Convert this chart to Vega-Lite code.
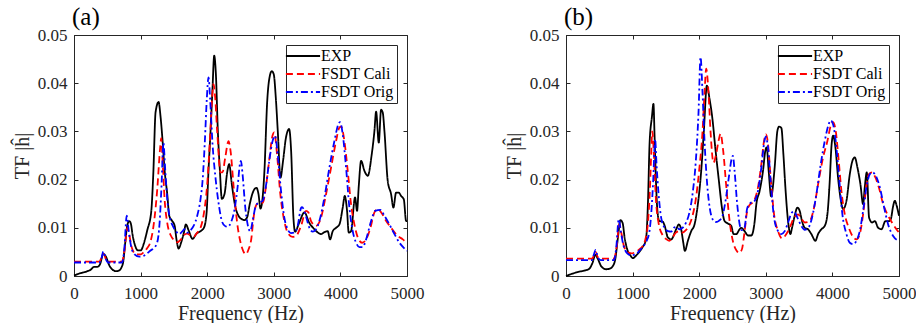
{
  "$schema": "https://vega.github.io/schema/vega-lite/v6.json",
  "autosize": {"type": "pad"},
  "padding": {"left": 11, "top": 4, "right": 0, "bottom": 0},
  "background": "white",
  "bounds": "flush",
  "spacing": 159,
  "config": {
    "font": "Liberation Serif",
    "view": {"stroke": "#262626", "strokeWidth": 1},
    "axis": {
      "grid": false,
      "labelFont": "Liberation Serif",
      "labelFontSize": 17,
      "labelColor": "#262626",
      "titleFont": "Liberation Serif",
      "titleFontSize": 20,
      "titleFontWeight": "normal",
      "titleColor": "#262626",
      "tickColor": "#262626",
      "domainColor": "#262626",
      "tickSize": -4,
      "labelFlush": false,
      "labelOverlap": false
    },
    "legend": {
      "orient": "top-right", "offset": 10, "padding": 3,
      "strokeColor": "#262626", "fillColor": "white",
      "symbolType": "M-2.85,0H2.85", "symbolSize": 144, "symbolStrokeWidth": 2,
      "symbolOffset": 6, "labelOffset": 10,
      "labelFont": "Liberation Serif", "labelFontSize": 16, "labelColor": "black",
      "rowPadding": 2, "labelLimit": 0
    },
    "title": {"font": "Liberation Serif", "fontSize": 25, "fontWeight": "normal", "color": "black", "anchor": "start", "frame": "group", "offset": -4, "dx": -2}
  },
  "data": {"values": [
    {"p":"a","s":"EXP","f":0,"tf":0.0001},{"p":"a","s":"EXP","f":100,"tf":0.0006},{"p":"a","s":"EXP","f":200,"tf":0.0010},{"p":"a","s":"EXP","f":250,"tf":0.0013},{"p":"a","s":"EXP","f":300,"tf":0.0019},{"p":"a","s":"EXP","f":350,"tf":0.0019},{"p":"a","s":"EXP","f":390,"tf":0.0024},{"p":"a","s":"EXP","f":440,"tf":0.0046},{"p":"a","s":"EXP","f":480,"tf":0.0040},{"p":"a","s":"EXP","f":530,"tf":0.0022},{"p":"a","s":"EXP","f":580,"tf":0.0013},{"p":"a","s":"EXP","f":630,"tf":0.0010},{"p":"a","s":"EXP","f":670,"tf":0.0011},{"p":"a","s":"EXP","f":710,"tf":0.0017},{"p":"a","s":"EXP","f":740,"tf":0.0030},{"p":"a","s":"EXP","f":770,"tf":0.0070},{"p":"a","s":"EXP","f":800,"tf":0.0105},{"p":"a","s":"EXP","f":830,"tf":0.0114},{"p":"a","s":"EXP","f":855,"tf":0.0108},{"p":"a","s":"EXP","f":880,"tf":0.0085},{"p":"a","s":"EXP","f":920,"tf":0.0062},{"p":"a","s":"EXP","f":960,"tf":0.0053},{"p":"a","s":"EXP","f":1000,"tf":0.0053},{"p":"a","s":"EXP","f":1050,"tf":0.0068},{"p":"a","s":"EXP","f":1100,"tf":0.0095},{"p":"a","s":"EXP","f":1160,"tf":0.0134},{"p":"a","s":"EXP","f":1190,"tf":0.0210},{"p":"a","s":"EXP","f":1225,"tf":0.0340},{"p":"a","s":"EXP","f":1270,"tf":0.0361},{"p":"a","s":"EXP","f":1300,"tf":0.0330},{"p":"a","s":"EXP","f":1330,"tf":0.0280},{"p":"a","s":"EXP","f":1360,"tf":0.0220},{"p":"a","s":"EXP","f":1400,"tf":0.0170},{"p":"a","s":"EXP","f":1430,"tf":0.0125},{"p":"a","s":"EXP","f":1470,"tf":0.0115},{"p":"a","s":"EXP","f":1510,"tf":0.0105},{"p":"a","s":"EXP","f":1540,"tf":0.0075},{"p":"a","s":"EXP","f":1570,"tf":0.0057},{"p":"a","s":"EXP","f":1610,"tf":0.0070},{"p":"a","s":"EXP","f":1650,"tf":0.0090},{"p":"a","s":"EXP","f":1680,"tf":0.0107},{"p":"a","s":"EXP","f":1720,"tf":0.0095},{"p":"a","s":"EXP","f":1780,"tf":0.0077},{"p":"a","s":"EXP","f":1840,"tf":0.0088},{"p":"a","s":"EXP","f":1900,"tf":0.0093},{"p":"a","s":"EXP","f":1950,"tf":0.0100},{"p":"a","s":"EXP","f":1990,"tf":0.0130},{"p":"a","s":"EXP","f":2020,"tf":0.0220},{"p":"a","s":"EXP","f":2050,"tf":0.0300},{"p":"a","s":"EXP","f":2080,"tf":0.0390},{"p":"a","s":"EXP","f":2105,"tf":0.0457},{"p":"a","s":"EXP","f":2130,"tf":0.0420},{"p":"a","s":"EXP","f":2160,"tf":0.0300},{"p":"a","s":"EXP","f":2190,"tf":0.0220},{"p":"a","s":"EXP","f":2220,"tf":0.0160},{"p":"a","s":"EXP","f":2260,"tf":0.0170},{"p":"a","s":"EXP","f":2300,"tf":0.0215},{"p":"a","s":"EXP","f":2330,"tf":0.0232},{"p":"a","s":"EXP","f":2370,"tf":0.0190},{"p":"a","s":"EXP","f":2420,"tf":0.0145},{"p":"a","s":"EXP","f":2470,"tf":0.0125},{"p":"a","s":"EXP","f":2520,"tf":0.0118},{"p":"a","s":"EXP","f":2560,"tf":0.0116},{"p":"a","s":"EXP","f":2600,"tf":0.0122},{"p":"a","s":"EXP","f":2640,"tf":0.0150},{"p":"a","s":"EXP","f":2690,"tf":0.0175},{"p":"a","s":"EXP","f":2740,"tf":0.0183},{"p":"a","s":"EXP","f":2770,"tf":0.0170},{"p":"a","s":"EXP","f":2800,"tf":0.0140},{"p":"a","s":"EXP","f":2830,"tf":0.0160},{"p":"a","s":"EXP","f":2860,"tf":0.0220},{"p":"a","s":"EXP","f":2900,"tf":0.0360},{"p":"a","s":"EXP","f":2940,"tf":0.0415},{"p":"a","s":"EXP","f":2970,"tf":0.0425},{"p":"a","s":"EXP","f":3000,"tf":0.0418},{"p":"a","s":"EXP","f":3030,"tf":0.0370},{"p":"a","s":"EXP","f":3060,"tf":0.0300},{"p":"a","s":"EXP","f":3100,"tf":0.0204},{"p":"a","s":"EXP","f":3140,"tf":0.0240},{"p":"a","s":"EXP","f":3180,"tf":0.0285},{"p":"a","s":"EXP","f":3230,"tf":0.0305},{"p":"a","s":"EXP","f":3260,"tf":0.0260},{"p":"a","s":"EXP","f":3295,"tf":0.0120},{"p":"a","s":"EXP","f":3320,"tf":0.0092},{"p":"a","s":"EXP","f":3380,"tf":0.0110},{"p":"a","s":"EXP","f":3460,"tf":0.0132},{"p":"a","s":"EXP","f":3530,"tf":0.0111},{"p":"a","s":"EXP","f":3610,"tf":0.0097},{"p":"a","s":"EXP","f":3710,"tf":0.0087},{"p":"a","s":"EXP","f":3760,"tf":0.0091},{"p":"a","s":"EXP","f":3810,"tf":0.0093},{"p":"a","s":"EXP","f":3845,"tf":0.0076},{"p":"a","s":"EXP","f":3885,"tf":0.0093},{"p":"a","s":"EXP","f":3935,"tf":0.0100},{"p":"a","s":"EXP","f":3985,"tf":0.0107},{"p":"a","s":"EXP","f":4035,"tf":0.0142},{"p":"a","s":"EXP","f":4065,"tf":0.0166},{"p":"a","s":"EXP","f":4100,"tf":0.0135},{"p":"a","s":"EXP","f":4125,"tf":0.0090},{"p":"a","s":"EXP","f":4160,"tf":0.0093},{"p":"a","s":"EXP","f":4220,"tf":0.0163},{"p":"a","s":"EXP","f":4250,"tf":0.0135},{"p":"a","s":"EXP","f":4275,"tf":0.0185},{"p":"a","s":"EXP","f":4311,"tf":0.0239},{"p":"a","s":"EXP","f":4361,"tf":0.0218},{"p":"a","s":"EXP","f":4411,"tf":0.0208},{"p":"a","s":"EXP","f":4471,"tf":0.0253},{"p":"a","s":"EXP","f":4511,"tf":0.0301},{"p":"a","s":"EXP","f":4536,"tf":0.0341},{"p":"a","s":"EXP","f":4576,"tf":0.0277},{"p":"a","s":"EXP","f":4611,"tf":0.0345},{"p":"a","s":"EXP","f":4636,"tf":0.0339},{"p":"a","s":"EXP","f":4661,"tf":0.0301},{"p":"a","s":"EXP","f":4711,"tf":0.0197},{"p":"a","s":"EXP","f":4761,"tf":0.0170},{"p":"a","s":"EXP","f":4796,"tf":0.0142},{"p":"a","s":"EXP","f":4836,"tf":0.0173},{"p":"a","s":"EXP","f":4876,"tf":0.0173},{"p":"a","s":"EXP","f":4912,"tf":0.0166},{"p":"a","s":"EXP","f":4952,"tf":0.0159},{"p":"a","s":"EXP","f":4987,"tf":0.0114},{"p":"a","s":"EXP","f":5000,"tf":0.0114},

    {"p":"a","s":"FSDT Cali","f":0,"tf":0.0030},{"p":"a","s":"FSDT Cali","f":200,"tf":0.0030},{"p":"a","s":"FSDT Cali","f":380,"tf":0.0030},{"p":"a","s":"FSDT Cali","f":420,"tf":0.0040},{"p":"a","s":"FSDT Cali","f":445,"tf":0.0046},{"p":"a","s":"FSDT Cali","f":480,"tf":0.0035},{"p":"a","s":"FSDT Cali","f":520,"tf":0.0030},{"p":"a","s":"FSDT Cali","f":720,"tf":0.0030},{"p":"a","s":"FSDT Cali","f":760,"tf":0.0055},{"p":"a","s":"FSDT Cali","f":800,"tf":0.0100},{"p":"a","s":"FSDT Cali","f":830,"tf":0.0085},{"p":"a","s":"FSDT Cali","f":870,"tf":0.0058},{"p":"a","s":"FSDT Cali","f":930,"tf":0.0045},{"p":"a","s":"FSDT Cali","f":1000,"tf":0.0045},{"p":"a","s":"FSDT Cali","f":1050,"tf":0.0050},{"p":"a","s":"FSDT Cali","f":1100,"tf":0.0058},{"p":"a","s":"FSDT Cali","f":1150,"tf":0.0072},{"p":"a","s":"FSDT Cali","f":1200,"tf":0.0110},{"p":"a","s":"FSDT Cali","f":1250,"tf":0.0180},{"p":"a","s":"FSDT Cali","f":1290,"tf":0.0260},{"p":"a","s":"FSDT Cali","f":1310,"tf":0.0286},{"p":"a","s":"FSDT Cali","f":1330,"tf":0.0240},{"p":"a","s":"FSDT Cali","f":1360,"tf":0.0160},{"p":"a","s":"FSDT Cali","f":1400,"tf":0.0110},{"p":"a","s":"FSDT Cali","f":1450,"tf":0.0085},{"p":"a","s":"FSDT Cali","f":1500,"tf":0.0075},{"p":"a","s":"FSDT Cali","f":1550,"tf":0.0070},{"p":"a","s":"FSDT Cali","f":1600,"tf":0.0075},{"p":"a","s":"FSDT Cali","f":1650,"tf":0.0085},{"p":"a","s":"FSDT Cali","f":1700,"tf":0.0088},{"p":"a","s":"FSDT Cali","f":1750,"tf":0.0084},{"p":"a","s":"FSDT Cali","f":1800,"tf":0.0082},{"p":"a","s":"FSDT Cali","f":1850,"tf":0.0090},{"p":"a","s":"FSDT Cali","f":1900,"tf":0.0100},{"p":"a","s":"FSDT Cali","f":1950,"tf":0.0130},{"p":"a","s":"FSDT Cali","f":2000,"tf":0.0190},{"p":"a","s":"FSDT Cali","f":2040,"tf":0.0280},{"p":"a","s":"FSDT Cali","f":2070,"tf":0.0360},{"p":"a","s":"FSDT Cali","f":2095,"tf":0.0398},{"p":"a","s":"FSDT Cali","f":2120,"tf":0.0370},{"p":"a","s":"FSDT Cali","f":2150,"tf":0.0300},{"p":"a","s":"FSDT Cali","f":2200,"tf":0.0215},{"p":"a","s":"FSDT Cali","f":2230,"tf":0.0215},{"p":"a","s":"FSDT Cali","f":2270,"tf":0.0245},{"p":"a","s":"FSDT Cali","f":2320,"tf":0.0280},{"p":"a","s":"FSDT Cali","f":2350,"tf":0.0260},{"p":"a","s":"FSDT Cali","f":2400,"tf":0.0180},{"p":"a","s":"FSDT Cali","f":2450,"tf":0.0110},{"p":"a","s":"FSDT Cali","f":2500,"tf":0.0070},{"p":"a","s":"FSDT Cali","f":2540,"tf":0.0052},{"p":"a","s":"FSDT Cali","f":2580,"tf":0.0045},{"p":"a","s":"FSDT Cali","f":2620,"tf":0.0055},{"p":"a","s":"FSDT Cali","f":2660,"tf":0.0075},{"p":"a","s":"FSDT Cali","f":2700,"tf":0.0125},{"p":"a","s":"FSDT Cali","f":2750,"tf":0.0150},{"p":"a","s":"FSDT Cali","f":2800,"tf":0.0152},{"p":"a","s":"FSDT Cali","f":2835,"tf":0.0152},{"p":"a","s":"FSDT Cali","f":2880,"tf":0.0183},{"p":"a","s":"FSDT Cali","f":2930,"tf":0.0239},{"p":"a","s":"FSDT Cali","f":2980,"tf":0.0291},{"p":"a","s":"FSDT Cali","f":3008,"tf":0.0298},{"p":"a","s":"FSDT Cali","f":3048,"tf":0.0253},{"p":"a","s":"FSDT Cali","f":3098,"tf":0.0170},{"p":"a","s":"FSDT Cali","f":3158,"tf":0.0114},{"p":"a","s":"FSDT Cali","f":3208,"tf":0.0090},{"p":"a","s":"FSDT Cali","f":3283,"tf":0.0081},{"p":"a","s":"FSDT Cali","f":3333,"tf":0.0083},{"p":"a","s":"FSDT Cali","f":3409,"tf":0.0104},{"p":"a","s":"FSDT Cali","f":3484,"tf":0.0135},{"p":"a","s":"FSDT Cali","f":3519,"tf":0.0132},{"p":"a","s":"FSDT Cali","f":3559,"tf":0.0114},{"p":"a","s":"FSDT Cali","f":3634,"tf":0.0104},{"p":"a","s":"FSDT Cali","f":3709,"tf":0.0121},{"p":"a","s":"FSDT Cali","f":3785,"tf":0.0170},{"p":"a","s":"FSDT Cali","f":3860,"tf":0.0225},{"p":"a","s":"FSDT Cali","f":3935,"tf":0.0280},{"p":"a","s":"FSDT Cali","f":3985,"tf":0.0308},{"p":"a","s":"FSDT Cali","f":4010,"tf":0.0310},{"p":"a","s":"FSDT Cali","f":4060,"tf":0.0280},{"p":"a","s":"FSDT Cali","f":4110,"tf":0.0218},{"p":"a","s":"FSDT Cali","f":4160,"tf":0.0149},{"p":"a","s":"FSDT Cali","f":4210,"tf":0.0107},{"p":"a","s":"FSDT Cali","f":4261,"tf":0.0080},{"p":"a","s":"FSDT Cali","f":4326,"tf":0.0069},{"p":"a","s":"FSDT Cali","f":4386,"tf":0.0076},{"p":"a","s":"FSDT Cali","f":4451,"tf":0.0100},{"p":"a","s":"FSDT Cali","f":4511,"tf":0.0132},{"p":"a","s":"FSDT Cali","f":4562,"tf":0.0139},{"p":"a","s":"FSDT Cali","f":4612,"tf":0.0132},{"p":"a","s":"FSDT Cali","f":4687,"tf":0.0114},{"p":"a","s":"FSDT Cali","f":4762,"tf":0.0100},{"p":"a","s":"FSDT Cali","f":4862,"tf":0.0083},{"p":"a","s":"FSDT Cali","f":4937,"tf":0.0076},{"p":"a","s":"FSDT Cali","f":5000,"tf":0.0068},

    {"p":"a","s":"FSDT Orig","f":0,"tf":0.0028},{"p":"a","s":"FSDT Orig","f":200,"tf":0.0028},{"p":"a","s":"FSDT Orig","f":380,"tf":0.0028},{"p":"a","s":"FSDT Orig","f":415,"tf":0.0038},{"p":"a","s":"FSDT Orig","f":440,"tf":0.0051},{"p":"a","s":"FSDT Orig","f":470,"tf":0.0038},{"p":"a","s":"FSDT Orig","f":510,"tf":0.0028},{"p":"a","s":"FSDT Orig","f":720,"tf":0.0028},{"p":"a","s":"FSDT Orig","f":755,"tf":0.0055},{"p":"a","s":"FSDT Orig","f":792,"tf":0.0125},{"p":"a","s":"FSDT Orig","f":820,"tf":0.0095},{"p":"a","s":"FSDT Orig","f":860,"tf":0.0060},{"p":"a","s":"FSDT Orig","f":910,"tf":0.0045},{"p":"a","s":"FSDT Orig","f":980,"tf":0.0040},{"p":"a","s":"FSDT Orig","f":1050,"tf":0.0042},{"p":"a","s":"FSDT Orig","f":1100,"tf":0.0047},{"p":"a","s":"FSDT Orig","f":1150,"tf":0.0053},{"p":"a","s":"FSDT Orig","f":1200,"tf":0.0058},{"p":"a","s":"FSDT Orig","f":1250,"tf":0.0070},{"p":"a","s":"FSDT Orig","f":1285,"tf":0.0110},{"p":"a","s":"FSDT Orig","f":1315,"tf":0.0190},{"p":"a","s":"FSDT Orig","f":1342,"tf":0.0276},{"p":"a","s":"FSDT Orig","f":1370,"tf":0.0220},{"p":"a","s":"FSDT Orig","f":1400,"tf":0.0160},{"p":"a","s":"FSDT Orig","f":1440,"tf":0.0120},{"p":"a","s":"FSDT Orig","f":1480,"tf":0.0105},{"p":"a","s":"FSDT Orig","f":1530,"tf":0.0093},{"p":"a","s":"FSDT Orig","f":1580,"tf":0.0087},{"p":"a","s":"FSDT Orig","f":1630,"tf":0.0093},{"p":"a","s":"FSDT Orig","f":1660,"tf":0.0097},{"p":"a","s":"FSDT Orig","f":1700,"tf":0.0090},{"p":"a","s":"FSDT Orig","f":1750,"tf":0.0095},{"p":"a","s":"FSDT Orig","f":1800,"tf":0.0105},{"p":"a","s":"FSDT Orig","f":1850,"tf":0.0125},{"p":"a","s":"FSDT Orig","f":1900,"tf":0.0160},{"p":"a","s":"FSDT Orig","f":1930,"tf":0.0197},{"p":"a","s":"FSDT Orig","f":1965,"tf":0.0280},{"p":"a","s":"FSDT Orig","f":1995,"tf":0.0370},{"p":"a","s":"FSDT Orig","f":2020,"tf":0.0412},{"p":"a","s":"FSDT Orig","f":2045,"tf":0.0364},{"p":"a","s":"FSDT Orig","f":2080,"tf":0.0274},{"p":"a","s":"FSDT Orig","f":2130,"tf":0.0197},{"p":"a","s":"FSDT Orig","f":2181,"tf":0.0142},{"p":"a","s":"FSDT Orig","f":2220,"tf":0.0114},{"p":"a","s":"FSDT Orig","f":2266,"tf":0.0104},{"p":"a","s":"FSDT Orig","f":2306,"tf":0.0102},{"p":"a","s":"FSDT Orig","f":2356,"tf":0.0111},{"p":"a","s":"FSDT Orig","f":2406,"tf":0.0135},{"p":"a","s":"FSDT Orig","f":2456,"tf":0.0184},{"p":"a","s":"FSDT Orig","f":2491,"tf":0.0232},{"p":"a","s":"FSDT Orig","f":2506,"tf":0.0239},{"p":"a","s":"FSDT Orig","f":2531,"tf":0.0211},{"p":"a","s":"FSDT Orig","f":2572,"tf":0.0142},{"p":"a","s":"FSDT Orig","f":2607,"tf":0.0107},{"p":"a","s":"FSDT Orig","f":2647,"tf":0.0093},{"p":"a","s":"FSDT Orig","f":2682,"tf":0.0114},{"p":"a","s":"FSDT Orig","f":2722,"tf":0.0142},{"p":"a","s":"FSDT Orig","f":2767,"tf":0.0152},{"p":"a","s":"FSDT Orig","f":2832,"tf":0.0156},{"p":"a","s":"FSDT Orig","f":2882,"tf":0.0187},{"p":"a","s":"FSDT Orig","f":2932,"tf":0.0239},{"p":"a","s":"FSDT Orig","f":2982,"tf":0.0280},{"p":"a","s":"FSDT Orig","f":3018,"tf":0.0291},{"p":"a","s":"FSDT Orig","f":3058,"tf":0.0253},{"p":"a","s":"FSDT Orig","f":3108,"tf":0.0177},{"p":"a","s":"FSDT Orig","f":3158,"tf":0.0121},{"p":"a","s":"FSDT Orig","f":3208,"tf":0.0097},{"p":"a","s":"FSDT Orig","f":3258,"tf":0.0089},{"p":"a","s":"FSDT Orig","f":3308,"tf":0.0090},{"p":"a","s":"FSDT Orig","f":3358,"tf":0.0104},{"p":"a","s":"FSDT Orig","f":3409,"tf":0.0141},{"p":"a","s":"FSDT Orig","f":3424,"tf":0.0143},{"p":"a","s":"FSDT Orig","f":3474,"tf":0.0128},{"p":"a","s":"FSDT Orig","f":3534,"tf":0.0100},{"p":"a","s":"FSDT Orig","f":3584,"tf":0.0092},{"p":"a","s":"FSDT Orig","f":3634,"tf":0.0097},{"p":"a","s":"FSDT Orig","f":3684,"tf":0.0114},{"p":"a","s":"FSDT Orig","f":3760,"tf":0.0163},{"p":"a","s":"FSDT Orig","f":3835,"tf":0.0225},{"p":"a","s":"FSDT Orig","f":3910,"tf":0.0280},{"p":"a","s":"FSDT Orig","f":3970,"tf":0.0315},{"p":"a","s":"FSDT Orig","f":3995,"tf":0.0319},{"p":"a","s":"FSDT Orig","f":4035,"tf":0.0294},{"p":"a","s":"FSDT Orig","f":4085,"tf":0.0225},{"p":"a","s":"FSDT Orig","f":4135,"tf":0.0142},{"p":"a","s":"FSDT Orig","f":4185,"tf":0.0093},{"p":"a","s":"FSDT Orig","f":4236,"tf":0.0069},{"p":"a","s":"FSDT Orig","f":4286,"tf":0.0060},{"p":"a","s":"FSDT Orig","f":4336,"tf":0.0060},{"p":"a","s":"FSDT Orig","f":4386,"tf":0.0076},{"p":"a","s":"FSDT Orig","f":4461,"tf":0.0114},{"p":"a","s":"FSDT Orig","f":4521,"tf":0.0135},{"p":"a","s":"FSDT Orig","f":4601,"tf":0.0137},{"p":"a","s":"FSDT Orig","f":4661,"tf":0.0125},{"p":"a","s":"FSDT Orig","f":4736,"tf":0.0107},{"p":"a","s":"FSDT Orig","f":4812,"tf":0.0087},{"p":"a","s":"FSDT Orig","f":4887,"tf":0.0069},{"p":"a","s":"FSDT Orig","f":4962,"tf":0.0057},{"p":"a","s":"FSDT Orig","f":5000,"tf":0.0052},

    {"p":"b","s":"EXP","f":0,"tf":0.0000},{"p":"b","s":"EXP","f":100,"tf":0.0005},{"p":"b","s":"EXP","f":200,"tf":0.0009},{"p":"b","s":"EXP","f":300,"tf":0.0012},{"p":"b","s":"EXP","f":350,"tf":0.0015},{"p":"b","s":"EXP","f":400,"tf":0.0028},{"p":"b","s":"EXP","f":440,"tf":0.0044},{"p":"b","s":"EXP","f":480,"tf":0.0035},{"p":"b","s":"EXP","f":530,"tf":0.0020},{"p":"b","s":"EXP","f":600,"tf":0.0014},{"p":"b","s":"EXP","f":650,"tf":0.0015},{"p":"b","s":"EXP","f":700,"tf":0.0020},{"p":"b","s":"EXP","f":740,"tf":0.0035},{"p":"b","s":"EXP","f":780,"tf":0.0080},{"p":"b","s":"EXP","f":817,"tf":0.0116},{"p":"b","s":"EXP","f":850,"tf":0.0110},{"p":"b","s":"EXP","f":880,"tf":0.0080},{"p":"b","s":"EXP","f":920,"tf":0.0055},{"p":"b","s":"EXP","f":970,"tf":0.0042},{"p":"b","s":"EXP","f":1003,"tf":0.0037},{"p":"b","s":"EXP","f":1050,"tf":0.0042},{"p":"b","s":"EXP","f":1100,"tf":0.0050},{"p":"b","s":"EXP","f":1150,"tf":0.0060},{"p":"b","s":"EXP","f":1200,"tf":0.0075},{"p":"b","s":"EXP","f":1230,"tf":0.0150},{"p":"b","s":"EXP","f":1255,"tf":0.0275},{"p":"b","s":"EXP","f":1290,"tf":0.0330},{"p":"b","s":"EXP","f":1313,"tf":0.0357},{"p":"b","s":"EXP","f":1330,"tf":0.0290},{"p":"b","s":"EXP","f":1350,"tf":0.0200},{"p":"b","s":"EXP","f":1370,"tf":0.0140},{"p":"b","s":"EXP","f":1400,"tf":0.0114},{"p":"b","s":"EXP","f":1450,"tf":0.0113},{"p":"b","s":"EXP","f":1480,"tf":0.0105},{"p":"b","s":"EXP","f":1529,"tf":0.0080},{"p":"b","s":"EXP","f":1579,"tf":0.0076},{"p":"b","s":"EXP","f":1654,"tf":0.0097},{"p":"b","s":"EXP","f":1694,"tf":0.0107},{"p":"b","s":"EXP","f":1729,"tf":0.0097},{"p":"b","s":"EXP","f":1760,"tf":0.0070},{"p":"b","s":"EXP","f":1785,"tf":0.0052},{"p":"b","s":"EXP","f":1830,"tf":0.0073},{"p":"b","s":"EXP","f":1880,"tf":0.0093},{"p":"b","s":"EXP","f":1930,"tf":0.0107},{"p":"b","s":"EXP","f":1980,"tf":0.0149},{"p":"b","s":"EXP","f":2030,"tf":0.0218},{"p":"b","s":"EXP","f":2070,"tf":0.0301},{"p":"b","s":"EXP","f":2115,"tf":0.0395},{"p":"b","s":"EXP","f":2156,"tf":0.0367},{"p":"b","s":"EXP","f":2196,"tf":0.0329},{"p":"b","s":"EXP","f":2246,"tf":0.0260},{"p":"b","s":"EXP","f":2296,"tf":0.0197},{"p":"b","s":"EXP","f":2341,"tf":0.0142},{"p":"b","s":"EXP","f":2381,"tf":0.0114},{"p":"b","s":"EXP","f":2431,"tf":0.0109},{"p":"b","s":"EXP","f":2481,"tf":0.0104},{"p":"b","s":"EXP","f":2516,"tf":0.0087},{"p":"b","s":"EXP","f":2556,"tf":0.0087},{"p":"b","s":"EXP","f":2607,"tf":0.0097},{"p":"b","s":"EXP","f":2632,"tf":0.0100},{"p":"b","s":"EXP","f":2682,"tf":0.0093},{"p":"b","s":"EXP","f":2732,"tf":0.0084},{"p":"b","s":"EXP","f":2782,"tf":0.0084},{"p":"b","s":"EXP","f":2830,"tf":0.0110},{"p":"b","s":"EXP","f":2858,"tf":0.0149},{"p":"b","s":"EXP","f":2908,"tf":0.0177},{"p":"b","s":"EXP","f":2958,"tf":0.0218},{"p":"b","s":"EXP","f":2993,"tf":0.0260},{"p":"b","s":"EXP","f":3013,"tf":0.0267},{"p":"b","s":"EXP","f":3043,"tf":0.0218},{"p":"b","s":"EXP","f":3080,"tf":0.0165},{"p":"b","s":"EXP","f":3133,"tf":0.0225},{"p":"b","s":"EXP","f":3174,"tf":0.0301},{"p":"b","s":"EXP","f":3199,"tf":0.0310},{"p":"b","s":"EXP","f":3234,"tf":0.0307},{"p":"b","s":"EXP","f":3264,"tf":0.0253},{"p":"b","s":"EXP","f":3294,"tf":0.0184},{"p":"b","s":"EXP","f":3334,"tf":0.0114},{"p":"b","s":"EXP","f":3369,"tf":0.0087},{"p":"b","s":"EXP","f":3394,"tf":0.0100},{"p":"b","s":"EXP","f":3434,"tf":0.0125},{"p":"b","s":"EXP","f":3474,"tf":0.0142},{"p":"b","s":"EXP","f":3509,"tf":0.0135},{"p":"b","s":"EXP","f":3544,"tf":0.0114},{"p":"b","s":"EXP","f":3584,"tf":0.0100},{"p":"b","s":"EXP","f":3634,"tf":0.0097},{"p":"b","s":"EXP","f":3684,"tf":0.0087},{"p":"b","s":"EXP","f":3745,"tf":0.0073},{"p":"b","s":"EXP","f":3785,"tf":0.0087},{"p":"b","s":"EXP","f":3835,"tf":0.0097},{"p":"b","s":"EXP","f":3885,"tf":0.0104},{"p":"b","s":"EXP","f":3925,"tf":0.0128},{"p":"b","s":"EXP","f":3960,"tf":0.0197},{"p":"b","s":"EXP","f":3985,"tf":0.0267},{"p":"b","s":"EXP","f":4010,"tf":0.0291},{"p":"b","s":"EXP","f":4045,"tf":0.0267},{"p":"b","s":"EXP","f":4085,"tf":0.0204},{"p":"b","s":"EXP","f":4120,"tf":0.0163},{"p":"b","s":"EXP","f":4161,"tf":0.0139},{"p":"b","s":"EXP","f":4211,"tf":0.0156},{"p":"b","s":"EXP","f":4261,"tf":0.0211},{"p":"b","s":"EXP","f":4301,"tf":0.0239},{"p":"b","s":"EXP","f":4336,"tf":0.0246},{"p":"b","s":"EXP","f":4376,"tf":0.0225},{"p":"b","s":"EXP","f":4421,"tf":0.0190},{"p":"b","s":"EXP","f":4461,"tf":0.0149},{"p":"b","s":"EXP","f":4486,"tf":0.0184},{"p":"b","s":"EXP","f":4516,"tf":0.0215},{"p":"b","s":"EXP","f":4551,"tf":0.0121},{"p":"b","s":"EXP","f":4597,"tf":0.0111},{"p":"b","s":"EXP","f":4637,"tf":0.0114},{"p":"b","s":"EXP","f":4687,"tf":0.0100},{"p":"b","s":"EXP","f":4737,"tf":0.0097},{"p":"b","s":"EXP","f":4797,"tf":0.0114},{"p":"b","s":"EXP","f":4847,"tf":0.0114},{"p":"b","s":"EXP","f":4877,"tf":0.0118},{"p":"b","s":"EXP","f":4912,"tf":0.0145},{"p":"b","s":"EXP","f":4937,"tf":0.0156},{"p":"b","s":"EXP","f":4972,"tf":0.0142},{"p":"b","s":"EXP","f":5000,"tf":0.0125},

    {"p":"b","s":"FSDT Cali","f":0,"tf":0.0036},{"p":"b","s":"FSDT Cali","f":200,"tf":0.0036},{"p":"b","s":"FSDT Cali","f":390,"tf":0.0036},{"p":"b","s":"FSDT Cali","f":420,"tf":0.0043},{"p":"b","s":"FSDT Cali","f":445,"tf":0.0050},{"p":"b","s":"FSDT Cali","f":475,"tf":0.0040},{"p":"b","s":"FSDT Cali","f":520,"tf":0.0036},{"p":"b","s":"FSDT Cali","f":720,"tf":0.0036},{"p":"b","s":"FSDT Cali","f":760,"tf":0.0060},{"p":"b","s":"FSDT Cali","f":802,"tf":0.0108},{"p":"b","s":"FSDT Cali","f":830,"tf":0.0090},{"p":"b","s":"FSDT Cali","f":870,"tf":0.0062},{"p":"b","s":"FSDT Cali","f":920,"tf":0.0050},{"p":"b","s":"FSDT Cali","f":980,"tf":0.0047},{"p":"b","s":"FSDT Cali","f":1050,"tf":0.0050},{"p":"b","s":"FSDT Cali","f":1100,"tf":0.0055},{"p":"b","s":"FSDT Cali","f":1150,"tf":0.0062},{"p":"b","s":"FSDT Cali","f":1190,"tf":0.0075},{"p":"b","s":"FSDT Cali","f":1230,"tf":0.0110},{"p":"b","s":"FSDT Cali","f":1260,"tf":0.0180},{"p":"b","s":"FSDT Cali","f":1280,"tf":0.0255},{"p":"b","s":"FSDT Cali","f":1295,"tf":0.0300},{"p":"b","s":"FSDT Cali","f":1320,"tf":0.0250},{"p":"b","s":"FSDT Cali","f":1350,"tf":0.0160},{"p":"b","s":"FSDT Cali","f":1390,"tf":0.0110},{"p":"b","s":"FSDT Cali","f":1450,"tf":0.0085},{"p":"b","s":"FSDT Cali","f":1500,"tf":0.0077},{"p":"b","s":"FSDT Cali","f":1550,"tf":0.0073},{"p":"b","s":"FSDT Cali","f":1600,"tf":0.0080},{"p":"b","s":"FSDT Cali","f":1650,"tf":0.0090},{"p":"b","s":"FSDT Cali","f":1700,"tf":0.0093},{"p":"b","s":"FSDT Cali","f":1750,"tf":0.0090},{"p":"b","s":"FSDT Cali","f":1800,"tf":0.0095},{"p":"b","s":"FSDT Cali","f":1850,"tf":0.0105},{"p":"b","s":"FSDT Cali","f":1900,"tf":0.0125},{"p":"b","s":"FSDT Cali","f":1950,"tf":0.0160},{"p":"b","s":"FSDT Cali","f":2000,"tf":0.0220},{"p":"b","s":"FSDT Cali","f":2050,"tf":0.0300},{"p":"b","s":"FSDT Cali","f":2080,"tf":0.0380},{"p":"b","s":"FSDT Cali","f":2105,"tf":0.0430},{"p":"b","s":"FSDT Cali","f":2140,"tf":0.0380},{"p":"b","s":"FSDT Cali","f":2170,"tf":0.0300},{"p":"b","s":"FSDT Cali","f":2215,"tf":0.0235},{"p":"b","s":"FSDT Cali","f":2250,"tf":0.0250},{"p":"b","s":"FSDT Cali","f":2290,"tf":0.0280},{"p":"b","s":"FSDT Cali","f":2320,"tf":0.0295},{"p":"b","s":"FSDT Cali","f":2360,"tf":0.0260},{"p":"b","s":"FSDT Cali","f":2410,"tf":0.0180},{"p":"b","s":"FSDT Cali","f":2460,"tf":0.0110},{"p":"b","s":"FSDT Cali","f":2510,"tf":0.0070},{"p":"b","s":"FSDT Cali","f":2560,"tf":0.0053},{"p":"b","s":"FSDT Cali","f":2600,"tf":0.0048},{"p":"b","s":"FSDT Cali","f":2640,"tf":0.0055},{"p":"b","s":"FSDT Cali","f":2680,"tf":0.0090},{"p":"b","s":"FSDT Cali","f":2720,"tf":0.0135},{"p":"b","s":"FSDT Cali","f":2760,"tf":0.0148},{"p":"b","s":"FSDT Cali","f":2800,"tf":0.0152},{"p":"b","s":"FSDT Cali","f":2833,"tf":0.0159},{"p":"b","s":"FSDT Cali","f":2883,"tf":0.0184},{"p":"b","s":"FSDT Cali","f":2933,"tf":0.0232},{"p":"b","s":"FSDT Cali","f":2973,"tf":0.0280},{"p":"b","s":"FSDT Cali","f":3003,"tf":0.0294},{"p":"b","s":"FSDT Cali","f":3033,"tf":0.0274},{"p":"b","s":"FSDT Cali","f":3073,"tf":0.0204},{"p":"b","s":"FSDT Cali","f":3124,"tf":0.0128},{"p":"b","s":"FSDT Cali","f":3184,"tf":0.0093},{"p":"b","s":"FSDT Cali","f":3244,"tf":0.0078},{"p":"b","s":"FSDT Cali","f":3309,"tf":0.0087},{"p":"b","s":"FSDT Cali","f":3359,"tf":0.0100},{"p":"b","s":"FSDT Cali","f":3424,"tf":0.0121},{"p":"b","s":"FSDT Cali","f":3484,"tf":0.0128},{"p":"b","s":"FSDT Cali","f":3524,"tf":0.0121},{"p":"b","s":"FSDT Cali","f":3584,"tf":0.0111},{"p":"b","s":"FSDT Cali","f":3659,"tf":0.0114},{"p":"b","s":"FSDT Cali","f":3725,"tf":0.0142},{"p":"b","s":"FSDT Cali","f":3785,"tf":0.0190},{"p":"b","s":"FSDT Cali","f":3860,"tf":0.0246},{"p":"b","s":"FSDT Cali","f":3925,"tf":0.0280},{"p":"b","s":"FSDT Cali","f":3975,"tf":0.0312},{"p":"b","s":"FSDT Cali","f":4010,"tf":0.0319},{"p":"b","s":"FSDT Cali","f":4050,"tf":0.0301},{"p":"b","s":"FSDT Cali","f":4095,"tf":0.0239},{"p":"b","s":"FSDT Cali","f":4135,"tf":0.0177},{"p":"b","s":"FSDT Cali","f":4186,"tf":0.0128},{"p":"b","s":"FSDT Cali","f":4246,"tf":0.0100},{"p":"b","s":"FSDT Cali","f":4301,"tf":0.0083},{"p":"b","s":"FSDT Cali","f":4361,"tf":0.0076},{"p":"b","s":"FSDT Cali","f":4411,"tf":0.0087},{"p":"b","s":"FSDT Cali","f":4461,"tf":0.0128},{"p":"b","s":"FSDT Cali","f":4511,"tf":0.0187},{"p":"b","s":"FSDT Cali","f":4546,"tf":0.0211},{"p":"b","s":"FSDT Cali","f":4597,"tf":0.0215},{"p":"b","s":"FSDT Cali","f":4647,"tf":0.0204},{"p":"b","s":"FSDT Cali","f":4697,"tf":0.0184},{"p":"b","s":"FSDT Cali","f":4762,"tf":0.0149},{"p":"b","s":"FSDT Cali","f":4837,"tf":0.0125},{"p":"b","s":"FSDT Cali","f":4912,"tf":0.0107},{"p":"b","s":"FSDT Cali","f":5000,"tf":0.0090},

    {"p":"b","s":"FSDT Orig","f":0,"tf":0.0033},{"p":"b","s":"FSDT Orig","f":200,"tf":0.0033},{"p":"b","s":"FSDT Orig","f":390,"tf":0.0033},{"p":"b","s":"FSDT Orig","f":420,"tf":0.0045},{"p":"b","s":"FSDT Orig","f":445,"tf":0.0054},{"p":"b","s":"FSDT Orig","f":475,"tf":0.0040},{"p":"b","s":"FSDT Orig","f":520,"tf":0.0033},{"p":"b","s":"FSDT Orig","f":720,"tf":0.0033},{"p":"b","s":"FSDT Orig","f":755,"tf":0.0060},{"p":"b","s":"FSDT Orig","f":792,"tf":0.0118},{"p":"b","s":"FSDT Orig","f":820,"tf":0.0095},{"p":"b","s":"FSDT Orig","f":860,"tf":0.0065},{"p":"b","s":"FSDT Orig","f":920,"tf":0.0047},{"p":"b","s":"FSDT Orig","f":980,"tf":0.0043},{"p":"b","s":"FSDT Orig","f":1050,"tf":0.0045},{"p":"b","s":"FSDT Orig","f":1100,"tf":0.0052},{"p":"b","s":"FSDT Orig","f":1150,"tf":0.0060},{"p":"b","s":"FSDT Orig","f":1200,"tf":0.0070},{"p":"b","s":"FSDT Orig","f":1250,"tf":0.0090},{"p":"b","s":"FSDT Orig","f":1280,"tf":0.0130},{"p":"b","s":"FSDT Orig","f":1310,"tf":0.0200},{"p":"b","s":"FSDT Orig","f":1338,"tf":0.0284},{"p":"b","s":"FSDT Orig","f":1360,"tf":0.0230},{"p":"b","s":"FSDT Orig","f":1390,"tf":0.0170},{"p":"b","s":"FSDT Orig","f":1430,"tf":0.0120},{"p":"b","s":"FSDT Orig","f":1480,"tf":0.0100},{"p":"b","s":"FSDT Orig","f":1530,"tf":0.0093},{"p":"b","s":"FSDT Orig","f":1580,"tf":0.0092},{"p":"b","s":"FSDT Orig","f":1620,"tf":0.0100},{"p":"b","s":"FSDT Orig","f":1660,"tf":0.0102},{"p":"b","s":"FSDT Orig","f":1700,"tf":0.0097},{"p":"b","s":"FSDT Orig","f":1750,"tf":0.0100},{"p":"b","s":"FSDT Orig","f":1800,"tf":0.0110},{"p":"b","s":"FSDT Orig","f":1850,"tf":0.0130},{"p":"b","s":"FSDT Orig","f":1900,"tf":0.0170},{"p":"b","s":"FSDT Orig","f":1950,"tf":0.0240},{"p":"b","s":"FSDT Orig","f":1990,"tf":0.0340},{"p":"b","s":"FSDT Orig","f":2020,"tf":0.0454},{"p":"b","s":"FSDT Orig","f":2050,"tf":0.0380},{"p":"b","s":"FSDT Orig","f":2080,"tf":0.0280},{"p":"b","s":"FSDT Orig","f":2120,"tf":0.0190},{"p":"b","s":"FSDT Orig","f":2160,"tf":0.0140},{"p":"b","s":"FSDT Orig","f":2200,"tf":0.0118},{"p":"b","s":"FSDT Orig","f":2250,"tf":0.0112},{"p":"b","s":"FSDT Orig","f":2300,"tf":0.0115},{"p":"b","s":"FSDT Orig","f":2350,"tf":0.0125},{"p":"b","s":"FSDT Orig","f":2400,"tf":0.0160},{"p":"b","s":"FSDT Orig","f":2450,"tf":0.0210},{"p":"b","s":"FSDT Orig","f":2490,"tf":0.0245},{"p":"b","s":"FSDT Orig","f":2506,"tf":0.0249},{"p":"b","s":"FSDT Orig","f":2530,"tf":0.0220},{"p":"b","s":"FSDT Orig","f":2570,"tf":0.0150},{"p":"b","s":"FSDT Orig","f":2610,"tf":0.0105},{"p":"b","s":"FSDT Orig","f":2640,"tf":0.0095},{"p":"b","s":"FSDT Orig","f":2680,"tf":0.0100},{"p":"b","s":"FSDT Orig","f":2720,"tf":0.0140},{"p":"b","s":"FSDT Orig","f":2760,"tf":0.0150},{"p":"b","s":"FSDT Orig","f":2833,"tf":0.0156},{"p":"b","s":"FSDT Orig","f":2883,"tf":0.0177},{"p":"b","s":"FSDT Orig","f":2933,"tf":0.0225},{"p":"b","s":"FSDT Orig","f":2973,"tf":0.0274},{"p":"b","s":"FSDT Orig","f":2998,"tf":0.0289},{"p":"b","s":"FSDT Orig","f":3033,"tf":0.0267},{"p":"b","s":"FSDT Orig","f":3073,"tf":0.0197},{"p":"b","s":"FSDT Orig","f":3124,"tf":0.0121},{"p":"b","s":"FSDT Orig","f":3184,"tf":0.0093},{"p":"b","s":"FSDT Orig","f":3234,"tf":0.0087},{"p":"b","s":"FSDT Orig","f":3284,"tf":0.0093},{"p":"b","s":"FSDT Orig","f":3334,"tf":0.0111},{"p":"b","s":"FSDT Orig","f":3394,"tf":0.0132},{"p":"b","s":"FSDT Orig","f":3424,"tf":0.0134},{"p":"b","s":"FSDT Orig","f":3474,"tf":0.0121},{"p":"b","s":"FSDT Orig","f":3534,"tf":0.0104},{"p":"b","s":"FSDT Orig","f":3584,"tf":0.0096},{"p":"b","s":"FSDT Orig","f":3634,"tf":0.0099},{"p":"b","s":"FSDT Orig","f":3694,"tf":0.0121},{"p":"b","s":"FSDT Orig","f":3760,"tf":0.0170},{"p":"b","s":"FSDT Orig","f":3825,"tf":0.0232},{"p":"b","s":"FSDT Orig","f":3885,"tf":0.0280},{"p":"b","s":"FSDT Orig","f":3945,"tf":0.0315},{"p":"b","s":"FSDT Orig","f":3975,"tf":0.0323},{"p":"b","s":"FSDT Orig","f":4010,"tf":0.0315},{"p":"b","s":"FSDT Orig","f":4050,"tf":0.0280},{"p":"b","s":"FSDT Orig","f":4100,"tf":0.0204},{"p":"b","s":"FSDT Orig","f":4150,"tf":0.0128},{"p":"b","s":"FSDT Orig","f":4211,"tf":0.0087},{"p":"b","s":"FSDT Orig","f":4261,"tf":0.0069},{"p":"b","s":"FSDT Orig","f":4311,"tf":0.0066},{"p":"b","s":"FSDT Orig","f":4361,"tf":0.0073},{"p":"b","s":"FSDT Orig","f":4411,"tf":0.0093},{"p":"b","s":"FSDT Orig","f":4461,"tf":0.0135},{"p":"b","s":"FSDT Orig","f":4511,"tf":0.0184},{"p":"b","s":"FSDT Orig","f":4561,"tf":0.0211},{"p":"b","s":"FSDT Orig","f":4602,"tf":0.0215},{"p":"b","s":"FSDT Orig","f":4652,"tf":0.0208},{"p":"b","s":"FSDT Orig","f":4712,"tf":0.0184},{"p":"b","s":"FSDT Orig","f":4777,"tf":0.0142},{"p":"b","s":"FSDT Orig","f":4837,"tf":0.0107},{"p":"b","s":"FSDT Orig","f":4912,"tf":0.0083},{"p":"b","s":"FSDT Orig","f":5000,"tf":0.0073}
  ]},
  "resolve": {
    "scale": {"color": "independent", "strokeDash": "independent"},
    "legend": {"color": "independent", "strokeDash": "independent"}
  },
  "hconcat": [
    {
      "title": {"text": "(a)"},
      "width": 333,
      "height": 241,
      "transform": [{"filter": "datum.p === 'a'"}],
      "resolve": {"axis": {"x": "independent", "y": "independent"}},
      "layer": [
        {
          "mark": {"type": "line", "interpolate": "monotone", "strokeWidth": 1.8},
          "encoding": {
            "x": {"field": "f", "type": "quantitative", "scale": {"domain": [0, 5000], "nice": false},
                  "axis": {"values": [0, 1000, 2000, 3000, 4000, 5000], "format": "d", "labelPadding": 13, "title": "Frequency (Hz)", "titlePadding": 2}},
            "y": {"field": "tf", "type": "quantitative", "scale": {"domain": [0, 0.05], "nice": false},
                  "axis": {"values": [0, 0.01, 0.02, 0.03, 0.04, 0.05], "format": "~g", "labelPadding": 11, "title": "TF |ĥ|", "titlePadding": 5}},
            "color": {"field": "s", "type": "nominal",
                      "scale": {"domain": ["EXP", "FSDT Cali", "FSDT Orig"], "range": ["#000000", "#ff0000", "#0000ff"]},
                      "legend": {"title": null}},
            "strokeDash": {"field": "s", "type": "nominal",
                           "scale": {"domain": ["EXP", "FSDT Cali", "FSDT Orig"], "range": [[1, 0], [7, 4], [7, 3, 2, 3]]},
                           "legend": {"title": null}}
          }
        },
        {
          "mark": {"type": "point", "opacity": 0},
          "encoding": {
            "x": {"field": "f", "type": "quantitative", "axis": {"orient": "top", "values": [0, 1000, 2000, 3000, 4000, 5000], "labels": false, "domain": false, "title": null}},
            "y": {"field": "tf", "type": "quantitative", "axis": {"orient": "right", "values": [0, 0.01, 0.02, 0.03, 0.04, 0.05], "labels": false, "domain": false, "title": null}}
          }
        }
      ]
    },
    {
      "title": {"text": "(b)"},
      "width": 333,
      "height": 241,
      "transform": [{"filter": "datum.p === 'b'"}],
      "resolve": {"axis": {"x": "independent", "y": "independent"}},
      "layer": [
        {
          "mark": {"type": "line", "interpolate": "monotone", "strokeWidth": 1.8},
          "encoding": {
            "x": {"field": "f", "type": "quantitative", "scale": {"domain": [0, 5000], "nice": false},
                  "axis": {"values": [0, 1000, 2000, 3000, 4000, 5000], "format": "d", "labelPadding": 13, "title": "Frequency (Hz)", "titlePadding": 2}},
            "y": {"field": "tf", "type": "quantitative", "scale": {"domain": [0, 0.05], "nice": false},
                  "axis": {"values": [0, 0.01, 0.02, 0.03, 0.04, 0.05], "format": "~g", "labelPadding": 11, "title": "TF |ĥ|", "titlePadding": 5}},
            "color": {"field": "s", "type": "nominal",
                      "scale": {"domain": ["EXP", "FSDT Cali", "FSDT Orig"], "range": ["#000000", "#ff0000", "#0000ff"]},
                      "legend": {"title": null}},
            "strokeDash": {"field": "s", "type": "nominal",
                           "scale": {"domain": ["EXP", "FSDT Cali", "FSDT Orig"], "range": [[1, 0], [7, 4], [7, 3, 2, 3]]},
                           "legend": {"title": null}}
          }
        },
        {
          "mark": {"type": "point", "opacity": 0},
          "encoding": {
            "x": {"field": "f", "type": "quantitative", "axis": {"orient": "top", "values": [0, 1000, 2000, 3000, 4000, 5000], "labels": false, "domain": false, "title": null}},
            "y": {"field": "tf", "type": "quantitative", "axis": {"orient": "right", "values": [0, 0.01, 0.02, 0.03, 0.04, 0.05], "labels": false, "domain": false, "title": null}}
          }
        }
      ]
    }
  ]
}
